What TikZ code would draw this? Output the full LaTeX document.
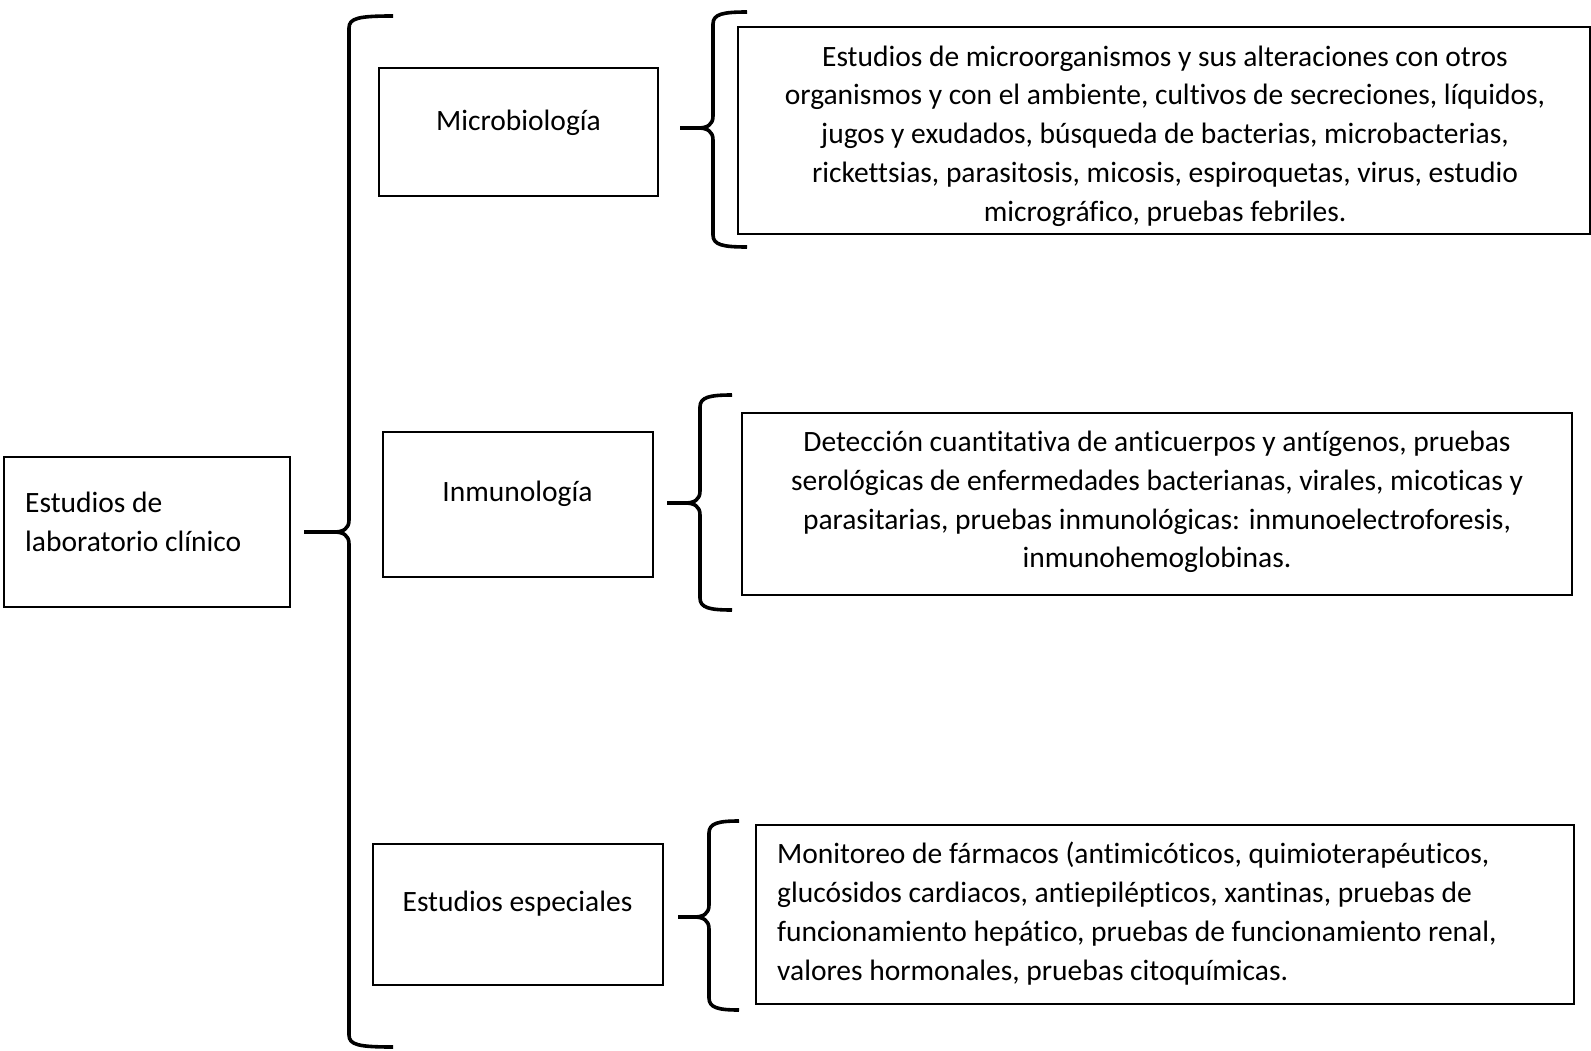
\documentclass[tikz,border=0pt]{standalone}
\usepackage{fontspec}
\setmainfont{Carlito}[Ligatures={NoCommon}]
\newcommand{\mybrace}[6]{%
  \draw[bracestyle] ({#6},{#2}) .. controls ({#1+10},{#2}) and ({#1},{#2+2}) .. ({#1},{#2+12})
    -- ({#1},{#4-12}) .. controls ({#1},{#4-3}) and ({#1-6},{#4}) .. ({#1-15},{#4})
    -- ({#5},{#4});
  \draw[bracestyle] ({#5},{#4}) -- ({#1-15},{#4}) .. controls ({#1-6},{#4}) and ({#1},{#4+3}) .. ({#1},{#4+12})
    -- ({#1},{#3-12}) .. controls ({#1},{#3-2}) and ({#1+10},{#3}) .. ({#6},{#3});
}
\begin{document}
\begin{tikzpicture}[x=1pt,y=-1pt,
  box/.style={draw=black,line width=1.6pt,inner sep=0pt,fill=none},
  txt/.style={inner sep=0pt,font=\fontsize{29.5}{38.8}\selectfont},
  bracestyle/.style={draw=black,line width=3.6pt,line cap=butt,line join=round}]
\useasboundingbox[fill=white] (0,0) rectangle (1591,1051);
% boxes
\node[box,minimum width=286pt,minimum height=150pt] (main) at (147,532) {};
\node[box,minimum width=279pt,minimum height=128pt] (mb) at (518.5,132) {};
\node[box,minimum width=270pt,minimum height=145pt] (in) at (518,504.5) {};
\node[box,minimum width=290pt,minimum height=141pt] (ee) at (518,914.5) {};
\node[box,minimum width=852pt,minimum height=207pt] (t1) at (1164,130.5) {};
\node[box,minimum width=830pt,minimum height=182pt] (t2) at (1157,504) {};
\node[box,minimum width=818pt,minimum height=179pt] (t3) at (1165,914.5) {};
% texts
\node[txt,anchor=west,align=left] (maintxt) at (25,521.5) {Estudios de\\laboratorio clínico};
\node[txt] (mbtxt) at (518.5,123) {Microbiología};
\node[txt] (intxt) at (517.5,494) {Inmunología};
\node[txt] (eetxt) at (517.5,904) {Estudios especiales};
\node[txt,align=center] (t1txt) at (1165,136) {Estudios de microorganismos y sus alteraciones con otros\\organismos y con el ambiente, cultivos de secreciones, líquidos,\\jugos y exudados, búsqueda de bacterias, microbacterias,\\rickettsias, parasitosis, micosis, espiroquetas, virus, estudio\\micrográfico, pruebas febriles.};
\node[txt,align=center] (t2txt) at (1157,502) {Detección cuantitativa de anticuerpos y antígenos, pruebas\\serológicas de enfermedades bacterianas, virales, micoticas y\\parasitarias, pruebas inmunológicas: inmunoelectroforesis,\\inmunohemoglobinas.};
\node[txt,anchor=west,align=left] (t3txt) at (777,913.5) {Monitoreo de fármacos (antimicóticos, quimioterapéuticos,\\glucósidos cardiacos, antiepilépticos, xantinas, pruebas de\\funcionamiento hepático, pruebas de funcionamiento renal,\\valores hormonales, pruebas citoquímicas.};
% braces
\mybrace{349}{16}{1047}{532}{304}{393}
\mybrace{713}{12}{247}{128}{680}{747}
\mybrace{700}{395}{610}{503}{667}{732}
\mybrace{709}{821}{1010}{917}{678}{739}
\end{tikzpicture}
\end{document}
